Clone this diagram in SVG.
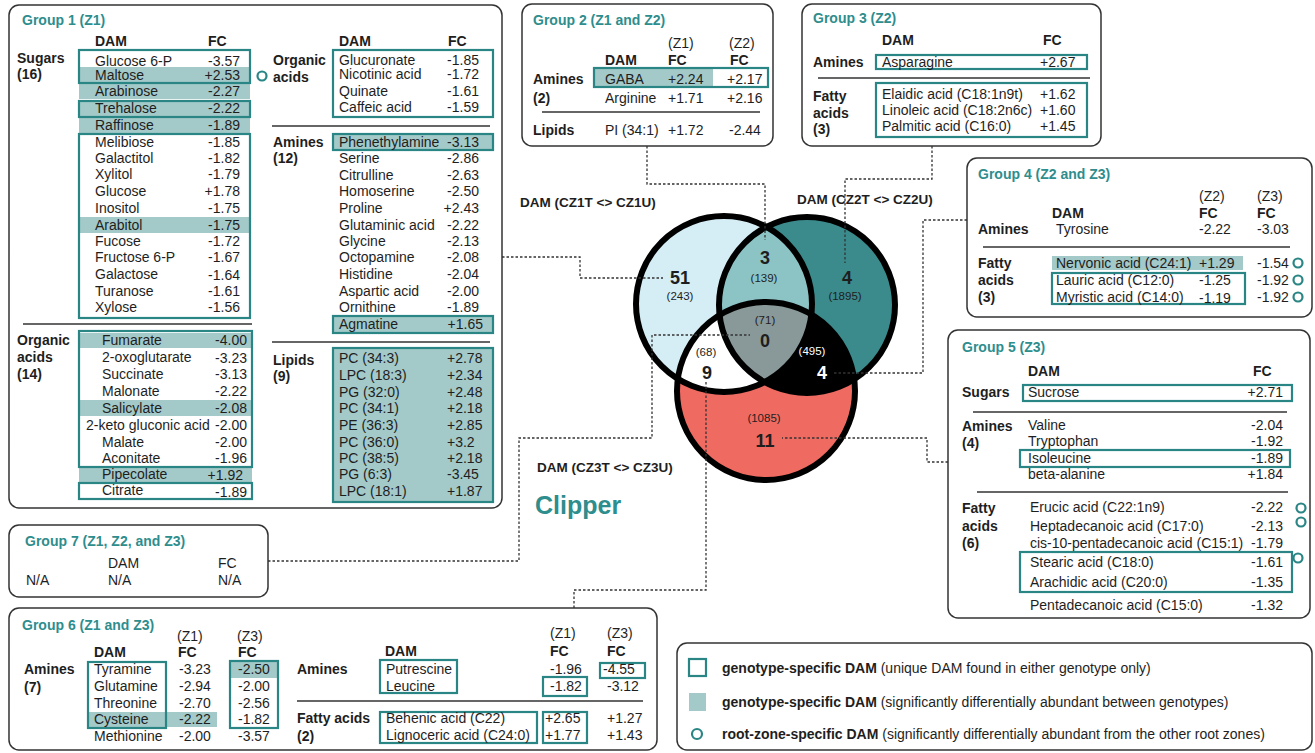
<svg xmlns="http://www.w3.org/2000/svg" width="1315" height="753" viewBox="0 0 1315 753">
<style>
text{font-family:"Liberation Sans",Arial,sans-serif;font-size:14px;fill:#1e1e1e}
.b{font-weight:bold}
.gt{font-weight:bold;fill:#2e8d8d}
.e{text-anchor:end}
.box{fill:#fff;stroke:#333;stroke-width:1.5}
.ol{fill:none;stroke:#2a8585;stroke-width:2.2}
.sh{fill:#a3c9c9}
.sep{stroke:#333;stroke-width:1.3}
.mk{fill:none;stroke:#2a8585;stroke-width:2.2}
.dot{fill:none;stroke:#333;stroke-width:1.3;stroke-dasharray:2.5 2}
.vs{font-size:11.5px}
.vn{font-size:18px;font-weight:bold}
.vl{font-size:13.5px;font-weight:bold}
</style>
<defs>
<clipPath id="c1"><circle cx="724" cy="304" r="88"/></clipPath>
<clipPath id="c2"><circle cx="807" cy="305" r="88"/></clipPath>
</defs>

<g id="group1">
<rect class="box" x="9" y="5" width="493" height="503" rx="10"/>
<text class="gt" x="22" y="25">Group 1 (Z1)</text>
<text class="b" x="95" y="46">DAM</text><text class="b" x="208" y="46">FC</text>
<text class="b" x="17" y="63">Sugars</text><text class="b" x="17" y="79">(16)</text>
<rect class="sh" x="79" y="67" width="171" height="16"/>
<rect class="sh" x="79" y="84" width="171" height="15"/>
<rect class="sh" x="79" y="101" width="171" height="16"/>
<rect class="sh" x="79" y="118" width="171" height="15"/>
<rect class="sh" x="79" y="217" width="171" height="16"/>
<rect class="ol" x="79" y="50" width="171" height="33"/>
<rect class="ol" x="79" y="101" width="171" height="16"/>
<rect class="ol" x="79" y="134" width="171" height="184"/>
<circle class="mk" cx="262" cy="76" r="4.5"/>
<text x="95" y="66">Glucose 6-P</text><text class="e" x="240" y="66">-3.57</text>
<text x="95" y="80">Maltose</text><text class="e" x="240" y="80">+2.53</text>
<text x="95" y="96">Arabinose</text><text class="e" x="240" y="96">-2.27</text>
<text x="95" y="113">Trehalose</text><text class="e" x="240" y="113">-2.22</text>
<text x="95" y="130">Raffinose</text><text class="e" x="240" y="130">-1.89</text>
<text x="95" y="147">Melibiose</text><text class="e" x="240" y="147">-1.85</text>
<text x="95" y="163">Galactitol</text><text class="e" x="240" y="163">-1.82</text>
<text x="95" y="179">Xylitol</text><text class="e" x="240" y="179">-1.79</text>
<text x="95" y="196">Glucose</text><text class="e" x="240" y="196">+1.78</text>
<text x="95" y="213">Inositol</text><text class="e" x="240" y="213">-1.75</text>
<text x="95" y="230">Arabitol</text><text class="e" x="240" y="230">-1.75</text>
<text x="95" y="246">Fucose</text><text class="e" x="240" y="246">-1.72</text>
<text x="95" y="262">Fructose 6-P</text><text class="e" x="240" y="262">-1.67</text>
<text x="95" y="279">Galactose</text><text class="e" x="240" y="280">-1.64</text>
<text x="95" y="296">Turanose</text><text class="e" x="240" y="296">-1.61</text>
<text x="95" y="312">Xylose</text><text class="e" x="240" y="312">-1.56</text>
<line class="sep" x1="23" y1="324" x2="252" y2="324"/>
<text class="b" x="17" y="345">Organic</text><text class="b" x="17" y="362">acids</text><text class="b" x="17" y="379">(14)</text>
<rect class="sh" x="79" y="333" width="173" height="15"/>
<rect class="sh" x="79" y="400" width="173" height="16"/>
<rect class="sh" x="79" y="467" width="173" height="15"/>
<rect class="ol" x="79" y="331" width="173" height="136"/>
<rect class="ol" x="79" y="483" width="173" height="16"/>
<text x="102" y="345">Fumarate</text><text class="e" x="247" y="345">-4.00</text>
<text x="102" y="362">2-oxoglutarate</text><text class="e" x="247" y="363">-3.23</text>
<text x="102" y="379">Succinate</text><text class="e" x="247" y="379">-3.13</text>
<text x="102" y="396">Malonate</text><text class="e" x="247" y="396">-2.22</text>
<text x="102" y="413">Salicylate</text><text class="e" x="247" y="413">-2.08</text>
<text x="86" y="430">2-keto gluconic acid</text><text class="e" x="247" y="430">-2.00</text>
<text x="102" y="447">Malate</text><text class="e" x="247" y="447">-2.00</text>
<text x="102" y="463">Aconitate</text><text class="e" x="247" y="463">-1.96</text>
<text x="102" y="479">Pipecolate</text><text class="e" x="243" y="480">+1.92</text>
<text x="102" y="495">Citrate</text><text class="e" x="247" y="497">-1.89</text>
<text class="b" x="339" y="46">DAM</text><text class="b" x="448" y="46">FC</text>
<text class="b" x="273" y="65">Organic</text><text class="b" x="273" y="82">acids</text>
<rect class="ol" x="333" y="50" width="160" height="67"/>
<text x="339" y="65">Glucuronate</text><text class="e" x="479" y="65">-1.85</text>
<text x="339" y="79">Nicotinic acid</text><text class="e" x="479" y="79">-1.72</text>
<text x="339" y="96">Quinate</text><text class="e" x="479" y="96">-1.61</text>
<text x="339" y="112">Caffeic acid</text><text class="e" x="479" y="112">-1.59</text>
<line class="sep" x1="272" y1="126" x2="490" y2="126"/>
<text class="b" x="273" y="147">Amines</text><text class="b" x="273" y="163">(12)</text>
<rect class="sh" x="333" y="134" width="160" height="16"/>
<rect class="sh" x="333" y="316" width="160" height="17"/>
<rect class="ol" x="333" y="134" width="160" height="16"/>
<rect class="ol" x="333" y="316" width="160" height="17"/>
<text x="339" y="147">Phenethylamine</text><text class="e" x="479" y="147">-3.13</text>
<text x="339" y="163">Serine</text><text class="e" x="479" y="163">-2.86</text>
<text x="339" y="180">Citrulline</text><text class="e" x="479" y="180">-2.63</text>
<text x="339" y="196">Homoserine</text><text class="e" x="479" y="196">-2.50</text>
<text x="339" y="213">Proline</text><text class="e" x="479" y="213">+2.43</text>
<text x="339" y="230">Glutaminic acid</text><text class="e" x="479" y="230">-2.22</text>
<text x="339" y="246">Glycine</text><text class="e" x="479" y="246">-2.13</text>
<text x="339" y="262">Octopamine</text><text class="e" x="479" y="262">-2.08</text>
<text x="339" y="279">Histidine</text><text class="e" x="479" y="279">-2.04</text>
<text x="339" y="296">Aspartic acid</text><text class="e" x="479" y="296">-2.00</text>
<text x="339" y="312">Ornithine</text><text class="e" x="479" y="312">-1.89</text>
<text x="339" y="329">Agmatine</text><text class="e" x="483" y="329">+1.65</text>
<line class="sep" x1="272" y1="342" x2="490" y2="342"/>
<text class="b" x="273" y="365">Lipids</text><text class="b" x="273" y="381">(9)</text>
<rect class="sh" x="333" y="348" width="160" height="154"/>
<rect class="ol" x="333" y="348" width="160" height="154"/>
<text x="339" y="363">PC (34:3)</text><text x="447" y="363">+2.78</text>
<text x="339" y="380">LPC (18:3)</text><text x="447" y="380">+2.34</text>
<text x="339" y="397">PG (32:0)</text><text x="447" y="397">+2.48</text>
<text x="339" y="413">PC (34:1)</text><text x="447" y="413">+2.18</text>
<text x="339" y="430">PE (36:3)</text><text x="447" y="430">+2.85</text>
<text x="339" y="447">PC (36:0)</text><text x="447" y="447">+3.2</text>
<text x="339" y="463">PC (38:5)</text><text x="447" y="463">+2.18</text>
<text x="339" y="479">PG (6:3)</text><text x="447" y="479">-3.45</text>
<text x="339" y="496">LPC (18:1)</text><text x="447" y="496">+1.87</text>
</g>

<g id="group2">
<rect class="box" x="522" y="4" width="251" height="142" rx="10"/>
<text class="gt" x="533" y="25">Group 2 (Z1 and Z2)</text>
<text x="668" y="48">(Z1)</text><text x="729" y="48">(Z2)</text>
<text class="b" x="605" y="65">DAM</text><text class="b" x="668" y="65">FC</text><text class="b" x="730" y="65">FC</text>
<text class="b" x="533" y="84">Amines</text><text class="b" x="533" y="103">(2)</text>
<rect class="sh" x="594" y="68" width="119" height="19"/>
<rect class="ol" x="594" y="68" width="174" height="19"/>
<text x="605" y="84">GABA</text><text x="668" y="84">+2.24</text><text x="727" y="84">+2.17</text>
<text x="605" y="103">Arginine</text><text x="668" y="103">+1.71</text><text x="727" y="103">+2.16</text>
<line class="sep" x1="542" y1="112" x2="760" y2="112"/>
<text class="b" x="533" y="135">Lipids</text>
<text x="605" y="135">PI (34:1)</text><text x="668" y="135">+1.72</text><text x="729" y="135">-2.44</text>
</g>

<g id="group3">
<rect class="box" x="802" y="4" width="299" height="142" rx="10"/>
<text class="gt" x="813" y="23">Group 3 (Z2)</text>
<text class="b" x="882" y="45">DAM</text><text class="b" x="1043" y="45">FC</text>
<text class="b" x="813" y="67">Amines</text>
<rect class="ol" x="876" y="55" width="211" height="14"/>
<text x="882" y="67">Asparagine</text><text x="1040" y="67">+2.67</text>
<line class="sep" x1="818" y1="78" x2="1090" y2="78"/>
<text class="b" x="813" y="101">Fatty</text><text class="b" x="813" y="118">acids</text><text class="b" x="813" y="134">(3)</text>
<rect class="ol" x="876" y="83" width="211" height="54"/>
<text x="882" y="99">Elaidic acid (C18:1n9t)</text><text x="1040" y="99">+1.62</text>
<text x="882" y="115">Linoleic acid (C18:2n6c)</text><text x="1040" y="115">+1.60</text>
<text x="882" y="131">Palmitic acid (C16:0)</text><text x="1040" y="131">+1.45</text>
</g>

<g id="group4">
<rect class="box" x="967" y="158" width="345" height="159" rx="10"/>
<text class="gt" x="978" y="179">Group 4 (Z2 and Z3)</text>
<text x="1199" y="201">(Z2)</text><text x="1257" y="201">(Z3)</text>
<text class="b" x="1052" y="218">DAM</text><text class="b" x="1199" y="218">FC</text><text class="b" x="1257" y="218">FC</text>
<text class="b" x="978" y="234">Amines</text>
<text x="1056" y="234">Tyrosine</text><text x="1199" y="234">-2.22</text><text x="1257" y="234">-3.03</text>
<line class="sep" x1="983" y1="247" x2="1290" y2="247"/>
<text class="b" x="978" y="268">Fatty</text><text class="b" x="978" y="285">acids</text><text class="b" x="978" y="302">(3)</text>
<rect class="sh" x="1052" y="256" width="191" height="14"/>
<rect class="ol" x="1052" y="273" width="193" height="31"/>
<text x="1056" y="268">Nervonic acid (C24:1)</text><text x="1199" y="268">+1.29</text><text x="1257" y="268">-1.54</text>
<text x="1056" y="285">Lauric acid (C12:0)</text><text x="1199" y="285">-1.25</text><text x="1257" y="285">-1.92</text>
<text x="1056" y="302">Myristic acid (C14:0)</text><text x="1199" y="303">-1.19</text><text x="1257" y="302">-1.92</text>
<circle class="mk" cx="1298" cy="263" r="4.5"/>
<circle class="mk" cx="1298" cy="280" r="4.5"/>
<circle class="mk" cx="1298" cy="297" r="4.5"/>
</g>

<g id="group5">
<rect class="box" x="948" y="330" width="362" height="288" rx="10"/>
<text class="gt" x="962" y="352">Group 5 (Z3)</text>
<text class="b" x="1028" y="376">DAM</text><text class="b" x="1253" y="376">FC</text>
<text class="b" x="962" y="397">Sugars</text>
<rect class="ol" x="1023" y="385" width="269" height="16"/>
<text x="1028" y="397">Sucrose</text><text class="e" x="1283" y="397">+2.71</text>
<line class="sep" x1="973" y1="412" x2="1287" y2="412"/>
<text class="b" x="962" y="431">Amines</text><text class="b" x="962" y="448">(4)</text>
<rect class="ol" x="1020" y="450" width="270" height="17"/>
<text x="1028" y="430">Valine</text><text class="e" x="1283" y="430">-2.04</text>
<text x="1028" y="446">Tryptophan</text><text class="e" x="1283" y="446">-1.92</text>
<text x="1028" y="463">Isoleucine</text><text class="e" x="1283" y="463">-1.89</text>
<text x="1028" y="479">beta-alanine</text><text class="e" x="1283" y="479">+1.84</text>
<line class="sep" x1="977" y1="492" x2="1288" y2="492"/>
<text class="b" x="962" y="513">Fatty</text><text class="b" x="962" y="531">acids</text><text class="b" x="962" y="548">(6)</text>
<rect class="ol" x="1020" y="552" width="272" height="40"/>
<text x="1030" y="512">Erucic acid (C22:1n9)</text><text class="e" x="1283" y="512">-2.22</text>
<text x="1030" y="531">Heptadecanoic acid (C17:0)</text><text class="e" x="1283" y="531">-2.13</text>
<text x="1030" y="548">cis-10-pentadecanoic acid (C15:1)</text><text class="e" x="1283" y="548">-1.79</text>
<text x="1030" y="567">Stearic acid (C18:0)</text><text class="e" x="1283" y="567">-1.61</text>
<text x="1030" y="587">Arachidic acid (C20:0)</text><text class="e" x="1283" y="587">-1.35</text>
<text x="1030" y="610">Pentadecanoic acid (C15:0)</text><text class="e" x="1283" y="610">-1.32</text>
<circle class="mk" cx="1301" cy="508" r="4.5"/>
<circle class="mk" cx="1301" cy="522" r="4.5"/>
<circle class="mk" cx="1298" cy="558" r="4.5"/>
</g>

<g id="group7">
<rect class="box" x="9" y="525" width="259" height="72" rx="10"/>
<text class="gt" x="25" y="546">Group 7 (Z1, Z2, and Z3)</text>
<text x="108" y="568">DAM</text><text x="218" y="568">FC</text>
<text x="26" y="585">N/A</text><text x="108" y="585">N/A</text><text x="218" y="585">N/A</text>
</g>

<g id="group6">
<rect class="box" x="9" y="608" width="648" height="142" rx="10"/>
<text class="gt" x="22" y="630">Group 6 (Z1 and Z3)</text>
<text x="177" y="641">(Z1)</text><text x="237" y="641">(Z3)</text>
<text class="b" x="94" y="657">DAM</text><text class="b" x="178" y="657">FC</text><text class="b" x="238" y="657">FC</text>
<text class="b" x="24" y="674">Amines</text><text class="b" x="24" y="692">(7)</text>
<rect class="sh" x="88" y="712" width="129" height="15"/>
<rect class="sh" x="230" y="662" width="48" height="16"/>
<rect class="ol" x="88" y="662" width="78" height="66"/>
<rect class="ol" x="230" y="661" width="48" height="67"/>
<text x="94" y="674">Tyramine</text><text x="179" y="674">-3.23</text><text x="238" y="674">-2.50</text>
<text x="94" y="691">Glutamine</text><text x="179" y="691">-2.94</text><text x="238" y="691">-2.00</text>
<text x="94" y="708">Threonine</text><text x="179" y="708">-2.70</text><text x="238" y="708">-2.56</text>
<text x="94" y="724">Cysteine</text><text x="179" y="724">-2.22</text><text x="238" y="724">-1.82</text>
<text x="94" y="741">Methionine</text><text x="179" y="741">-2.00</text><text x="238" y="741">-3.57</text>
<text x="550" y="638">(Z1)</text><text x="607" y="638">(Z3)</text>
<text class="b" x="385" y="656">DAM</text><text class="b" x="550" y="656">FC</text><text class="b" x="607" y="656">FC</text>
<text class="b" x="297" y="674">Amines</text>
<rect class="ol" x="380" y="660" width="77" height="33"/>
<rect class="ol" x="600" y="663" width="45" height="15"/>
<rect class="ol" x="543" y="677" width="44" height="19"/>
<text x="386" y="674">Putrescine</text><text x="550" y="674">-1.96</text><text x="603" y="674">-4.55</text>
<text x="386" y="691">Leucine</text><text x="550" y="691">-1.82</text><text x="607" y="691">-3.12</text>
<line class="sep" x1="297" y1="701" x2="643" y2="701"/>
<text class="b" x="297" y="723">Fatty acids</text><text class="b" x="297" y="741">(2)</text>
<rect class="ol" x="380" y="712" width="157" height="31"/>
<rect class="ol" x="543" y="712" width="44" height="31"/>
<text x="386" y="723">Behenic acid (C22)</text><text x="545" y="723">+2.65</text><text x="607" y="723">+1.27</text>
<text x="386" y="740">Lignoceric acid (C24:0)</text><text x="545" y="740">+1.77</text><text x="607" y="740">+1.43</text>
</g>

<g id="legend">
<rect class="box" x="677" y="643" width="635" height="107" rx="10"/>
<rect class="ol" x="689" y="659" width="17" height="17"/>
<rect class="sh" x="689" y="693" width="17" height="18"/>
<circle class="mk" cx="697" cy="734" r="5"/>
<text x="722" y="673"><tspan class="b">genotype-specific DAM</tspan> (unique DAM found in either genotype only)</text>
<text x="722" y="707"><tspan class="b">genotype-specific DAM</tspan> (significantly differentially abundant between genotypes)</text>
<text x="722" y="739"><tspan class="b">root-zone-specific DAM</tspan> (significantly differentially abundant from the other root zones)</text>
</g>

<g id="venn">
<circle cx="724" cy="304" r="88" fill="#d5edf5"/>
<circle cx="807" cy="305" r="88" fill="#3b8a8c"/>
<circle cx="766" cy="391" r="89" fill="#ef6b62"/>
<circle cx="807" cy="305" r="88" fill="#8cc4c6" clip-path="url(#c1)"/>
<circle cx="766" cy="391" r="89" fill="#ffffff" clip-path="url(#c1)"/>
<circle cx="766" cy="391" r="89" fill="#000000" clip-path="url(#c2)"/>
<g clip-path="url(#c1)"><circle cx="766" cy="391" r="89" fill="#899899" clip-path="url(#c2)"/></g>
<g fill="none" stroke="#000" stroke-width="6">
<circle cx="724" cy="304" r="88"/>
<circle cx="807" cy="305" r="88"/>
<circle cx="766" cy="391" r="89"/>
</g>
<g text-anchor="middle">
<text class="vn" x="680" y="284">51</text><text class="vs" x="680" y="300">(243)</text>
<text class="vn" x="765" y="264">3</text><text class="vs" x="764" y="282">(139)</text>
<text class="vn" x="847" y="284">4</text><text class="vs" x="845" y="300">(1895)</text>
<text class="vs" x="765" y="324">(71)</text><text class="vn" x="765" y="347">0</text>
<text class="vs" x="706" y="356">(68)</text><text class="vn" x="707" y="379">9</text>
<text class="vs" x="812" y="355" style="fill:#fff">(495)</text><text class="vn" x="822" y="379" style="fill:#fff">4</text>
<text class="vs" x="764" y="422">(1085)</text><text class="vn" x="765" y="447">11</text>
</g>
<text class="vl" x="520" y="207">DAM (CZ1T &lt;&gt; CZ1U)</text>
<text class="vl" x="797" y="204">DAM (CZ2T &lt;&gt; CZ2U)</text>
<text class="vl" x="537" y="472">DAM (CZ3T &lt;&gt; CZ3U)</text>
<text x="535" y="514" style="font-size:25px;font-weight:bold;fill:#2e8d8d">Clipper</text>
</g>

<g id="connectors">
<path class="dot" d="M502,257 H580 V278 H663"/>
<path class="dot" d="M647,146 V184 H765 V240"/>
<path class="dot" d="M932,146 V179 H845 V263"/>
<path class="dot" d="M967,220 H923 V373 H833"/>
<path class="dot" d="M948,462 H927 V438 H782"/>
<path class="dot" d="M268,561 H519 V438 H652 V335 H750"/>
<path class="dot" d="M706,382 V590 H574 V608"/>
</g>
</svg>
